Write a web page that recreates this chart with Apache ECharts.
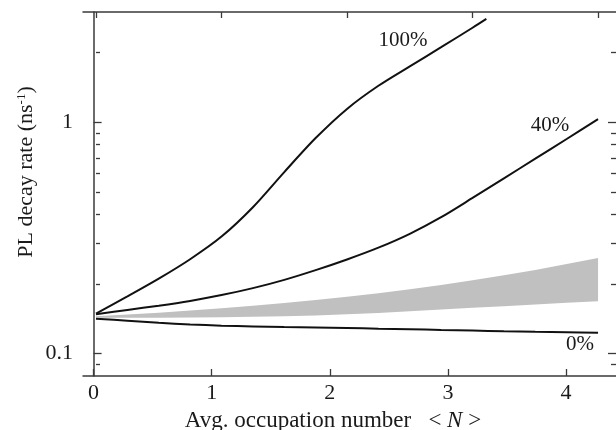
<!DOCTYPE html>
<html>
<head>
<meta charset="utf-8">
<title>PL decay rate</title>
<script src="https://cdn.jsdelivr.net/npm/echarts@6.0.0/dist/echarts.min.js"></script>
<style>
  html, body { margin: 0; padding: 0; background: #fff; }
  #chart { width: 616px; height: 430px; }
</style>
</head>
<body>
<div id="chart"></div>
<script>
// occupation values of the curves (top axis units)
const occupation = [0, 0.25, 0.5, 0.75, 1, 1.25, 1.5, 1.75, 2, 2.25, 2.5, 2.75, 3, 3.25, 3.5, 3.75, 4];
const occupation100 = [0, 0.25, 0.5, 0.75, 1, 1.25, 1.5, 1.75, 2, 2.25, 2.5, 2.75, 3, 3.11];

// decay rates (ns^-1)
const rate100 = [0.149, 0.1767, 0.2109, 0.2559, 0.3206, 0.4295, 0.6095, 0.855, 1.143, 1.439, 1.746, 2.113, 2.564, 2.80];
const rate40 = [0.1479, 0.1545, 0.1611, 0.169, 0.1791, 0.1919, 0.2084, 0.2296, 0.2553, 0.2871, 0.3296, 0.389, 0.471, 0.5728, 0.6966, 0.8472, 1.033];
const rate20 = [0.1449, 0.1476, 0.1503, 0.1535, 0.157, 0.1611, 0.1656, 0.1706, 0.1762, 0.1824, 0.1897, 0.1982, 0.2075, 0.2183, 0.2301, 0.2438, 0.2588];
const rate10 = [0.143, 0.143, 0.143, 0.1432, 0.1437, 0.1442, 0.145, 0.1463, 0.1478, 0.1498, 0.1524, 0.1551, 0.1578, 0.1604, 0.1631, 0.1657, 0.1686];
const rate0 = [0.1416, 0.1387, 0.1359, 0.1337, 0.132, 0.1311, 0.1302, 0.1297, 0.1291, 0.1282, 0.1274, 0.1265, 0.1257, 0.1249, 0.1242, 0.1236, 0.123];

// ticks
const xTicks = [0, 1, 2, 3, 4];
const yMajor = [0.1, 1];
const yMinor = [0.09, 0.2, 0.3, 0.4, 0.5, 0.6, 0.7, 0.8, 0.9, 2];

const FONT = '"Liberation Serif", "DejaVu Serif", serif';
const AXIS = '#3a3a3a';
const TEXT = '#1a1a1a';

const pairs = (xs, ys) => ys.map((y, i) => [xs[i], y]);

const chart = echarts.init(document.getElementById('chart'));

function yAxis(pos, values, len, labels, line) {
  return {
    type: 'log',
    logBase: 10,
    position: pos,
    min: 0.08,
    max: 3,
    axisLine: { show: line, lineStyle: { color: AXIS, width: 1.5 } },
    axisTick: { show: true, inside: true, length: len, customValues: values, lineStyle: { color: AXIS, width: 1.3 } },
    axisLabel: labels ? {
      customValues: values, margin: 10, fontFamily: FONT, fontSize: 22, color: TEXT,
      formatter: v => String(v)
    } : { show: false },
    minorTick: { show: false },
    splitLine: { show: false }
  };
}

// shaded 10% - 20% band: one polygon, upper edge forward, lower edge back
function renderBand(params, api) {
  const pts = [];
  for (let i = 0; i < occupation.length; i++) pts.push(api.coord([occupation[i], rate20[i]]));
  for (let i = occupation.length - 1; i >= 0; i--) pts.push(api.coord([occupation[i], rate10[i]]));
  return {
    type: 'polygon',
    shape: { points: pts },
    style: { fill: '#c0c0c0', stroke: 'none' }
  };
}

const curve = (name, xs, ys) => ({
  name: name,
  type: 'line',
  xAxisIndex: 1,
  data: pairs(xs, ys),
  symbol: 'none',
  smooth: 0.3,
  lineStyle: { color: '#111', width: 2 },
  z: 3
});

const option = {
  animation: false,
  grid: { left: 83, right: 0, top: 12, bottom: 54 },
  xAxis: [{
    type: 'value',
    position: 'bottom',
    min: -0.0898,
    max: 4.423,
    axisLine: { show: true, lineStyle: { color: AXIS, width: 1.5 } },
    axisTick: { show: true, inside: true, length: 7, customValues: xTicks, lineStyle: { color: AXIS, width: 1.3 } },
    axisLabel: { customValues: xTicks, margin: 6, fontFamily: FONT, fontSize: 22, color: TEXT },
    splitLine: { show: false }
  }, {
    type: 'value',
    position: 'top',
    min: -0.1036,
    max: 4.143,
    axisLine: { show: true, lineStyle: { color: AXIS, width: 1.5 } },
    axisTick: { show: true, inside: true, length: 6, customValues: xTicks, lineStyle: { color: AXIS, width: 1.3 } },
    axisLabel: { show: false },
    splitLine: { show: false }
  }],
  yAxis: [
    yAxis('left', yMajor, 8, true, true),
    yAxis('left', yMinor, 4, false, false),
    yAxis('right', yMajor, 8, false, false),
    yAxis('right', yMinor, 5, false, false)
  ],
  series: [{
    name: '10% - 20%',
    type: 'custom',
    xAxisIndex: 1,
    renderItem: renderBand,
    data: [[occupation[0], rate10[0]]],
    silent: true,
    z: 1
  },
    curve('0%', occupation, rate0),
    curve('40%', occupation, rate40),
    curve('100%', occupation100, rate100)
  ],
  graphic: [
    { type: 'text', x: 403, y: 40, style: { text: '100%', font: '21px ' + FONT, fill: TEXT, align: 'center', verticalAlign: 'middle' } },
    { type: 'text', x: 550, y: 125, style: { text: '40%', font: '21px ' + FONT, fill: TEXT, align: 'center', verticalAlign: 'middle' } },
    { type: 'text', x: 538, y: 291, style: { text: '10% - 20%', font: '21px ' + FONT, fill: TEXT, align: 'center', verticalAlign: 'middle' } },
    { type: 'text', x: 580, y: 344, style: { text: '0%', font: '21px ' + FONT, fill: TEXT, align: 'center', verticalAlign: 'middle' } },
    {
      type: 'text', x: 333, y: 421,
      style: {
        text: 'Avg. occupation number   < {i|N} >',
        font: '23px ' + FONT, fill: TEXT, align: 'center', verticalAlign: 'middle',
        rich: { i: { fontFamily: FONT, fontSize: 23, fontStyle: 'italic', fill: TEXT } }
      }
    },
    {
      type: 'text', x: 26, y: 172, rotation: Math.PI / 2,
      style: {
        text: 'PL decay rate (ns{sup|-1})',
        font: '22px ' + FONT, fill: TEXT, align: 'center', verticalAlign: 'middle',
        rich: { sup: { fontFamily: FONT, fontSize: 13, verticalAlign: 'top', lineHeight: 13, fill: TEXT } }
      }
    }
  ]
};

chart.setOption(option);
</script>
</body>
</html>
